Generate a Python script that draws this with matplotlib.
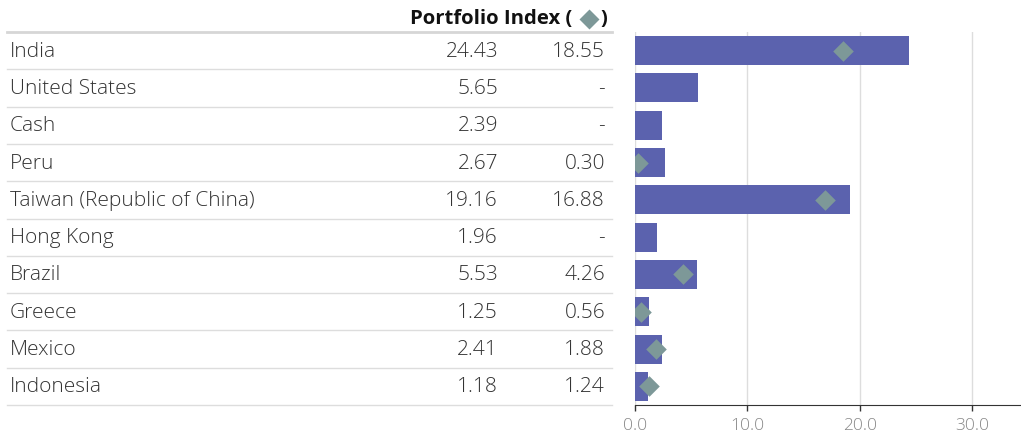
import matplotlib

matplotlib.use("Agg")

import matplotlib.pyplot as plt

countries = [
    "India",
    "United States",
    "Cash",
    "Peru",
    "Taiwan (Republic of China)",
    "Hong Kong",
    "Brazil",
    "Greece",
    "Mexico",
    "Indonesia",
]
portfolio = [24.43, 5.65, 2.39, 2.67, 19.16, 1.96, 5.53, 1.25, 2.41, 1.18]
index = [18.55, None, None, 0.30, 16.88, None, 4.26, 0.56, 1.88, 1.24]
x_ticks = [0, 10, 20, 30]

BAR_COLOR = "#5b62ae"
DIAMOND_COLOR = "#7d9898"
TEXT_COLOR = "#333333"
LINE_COLOR = "#dddddd"

W, H = 1021, 434
fig = plt.figure(figsize=(W / 100, H / 100), dpi=100)

# table drawn in pixel coordinates
tab = fig.add_axes([0, 0, 1, 1])
tab.set_xlim(0, W)
tab.set_ylim(H, 0)
tab.axis("off")

top, bottom = 32, 405
n = len(countries)
row_h = (bottom - top) / n

tab.plot([7, 612], [top, top], color="#d6d6d6", lw=2)
for i in range(n):
    y_line = top + (i + 1) * row_h
    tab.plot([7, 612], [y_line, y_line], color=LINE_COLOR, lw=1)

font = dict(family="Open Sans", weight="light", fontsize=15, color=TEXT_COLOR)
for i, (name, p, idx) in enumerate(zip(countries, portfolio, index)):
    yc = top + (i + 0.5) * row_h + 1
    tab.text(10, yc, name, ha="left", va="center", **font)
    tab.text(498, yc, f"{p:.2f}", ha="right", va="center", **font)
    tab.text(605, yc, "-" if idx is None else f"{idx:.2f}", ha="right", va="center", **font)

head = dict(family="Open Sans", weight="bold", fontsize=14.6, color="#111111")
tab.text(410, 19, "Portfolio Index (", ha="left", va="center", **head)
tab.plot([589], [19], marker="D", ms=10, color=DIAMOND_COLOR, mec="none")
tab.text(600, 19, ")", ha="left", va="center", **head)

# bar chart
x0, x30 = 635, 972
scale = (x30 - x0) / 30
ax = fig.add_axes([x0 / W, (H - bottom) / H, (W - x0) / W, (bottom - top) / H])
ypos = list(range(n))
ax.barh(ypos, portfolio, height=0.78, color=BAR_COLOR, zorder=2)
ix = [v for v in index if v is not None]
iy = [y for y, v in zip(ypos, index) if v is not None]
ax.scatter(ix, iy, marker="D", s=110, color=DIAMOND_COLOR, zorder=3, linewidths=0)

ax.set_xlim(0, (W - x0) / scale)
ax.set_ylim(n - 0.5, -0.5)
ax.set_xticks(x_ticks)
ax.set_xticklabels([f"{t:.1f}" for t in x_ticks])
ax.set_yticks([])
ax.grid(axis="x", color="#dddddd", lw=1, zorder=0)
for side in ["top", "right", "left"]:
    ax.spines[side].set_visible(False)
ax.spines["bottom"].set_color("#333333")
ax.tick_params(axis="x", colors="#333333", length=4, width=1, labelsize=12.5, pad=5)
for lab in ax.get_xticklabels():
    lab.set_color("#888888")
    lab.set_family("Open Sans")
    lab.set_weight("light")

fig.savefig("out.png", dpi=100)
